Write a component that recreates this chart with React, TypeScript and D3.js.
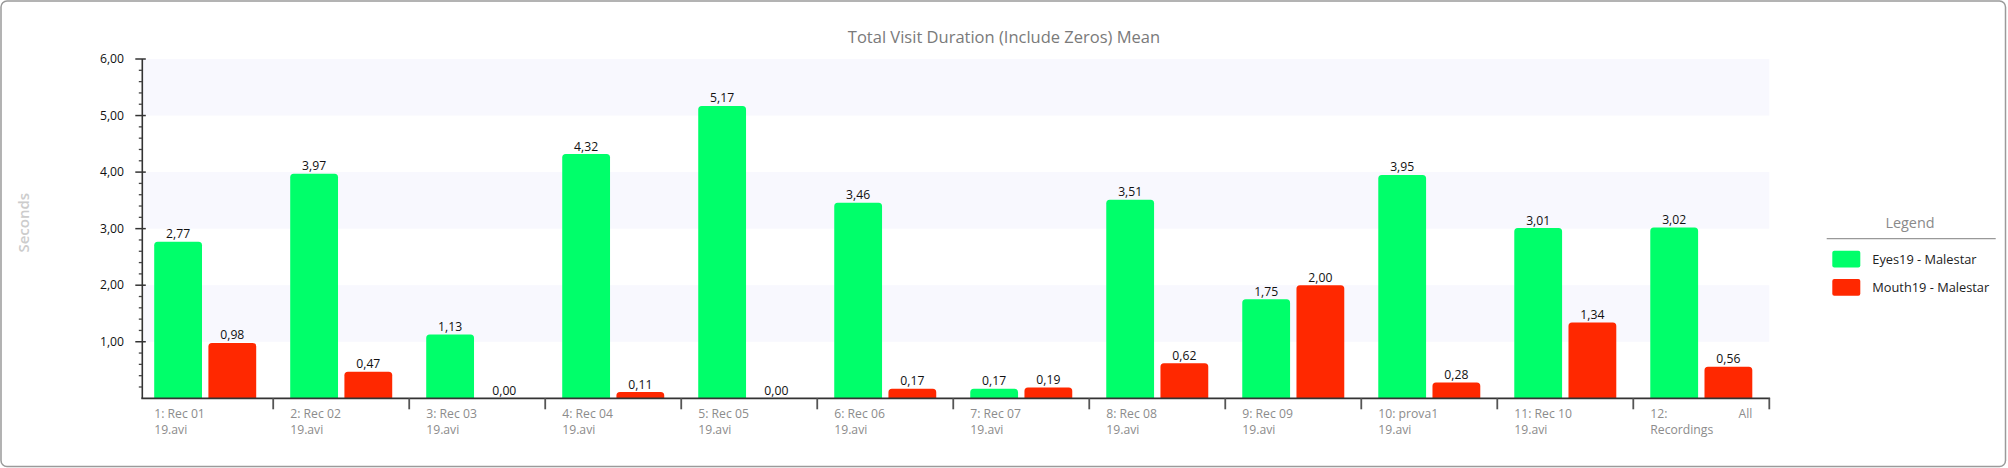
import React, { useEffect } from "react";
import * as d3 from "d3";

const categoryLine1 = ["1: Rec 01", "2: Rec 02", "3: Rec 03", "4: Rec 04", "5: Rec 05", "6: Rec 06", "7: Rec 07", "8: Rec 08", "9: Rec 09", "10: prova1", "11: Rec 10", "12: All"];
const categoryLine2 = ["19.avi", "19.avi", "19.avi", "19.avi", "19.avi", "19.avi", "19.avi", "19.avi", "19.avi", "19.avi", "19.avi", "Recordings"];
const eyesValues = [2.77, 3.97, 1.13, 4.32, 5.17, 3.46, 0.17, 3.51, 1.75, 3.95, 3.01, 3.02];
const mouthValues = [0.98, 0.47, 0.0, 0.11, 0.0, 0.17, 0.19, 0.62, 2.0, 0.28, 1.34, 0.56];
const seriesNames = ["Eyes19 - Malestar", "Mouth19 - Malestar"];
const seriesColors = ["#00FF6A", "#FF2800"];
const yTicks = [1, 2, 3, 4, 5, 6];
const bandRanges = [[5, 6], [3, 4], [1, 2]];
const title = "Total Visit Duration (Include Zeros) Mean";
const yTitle = "Seconds";
const legendTitle = "Legend";

const W = 2008;
const H = 468;
const FONT = "'Segoe UI', 'Open Sans', 'Noto Sans', sans-serif";

const fmt = (v: number) => d3.format(".2f")(v).replace(".", ",");

function topRounded(x: number, y: number, w: number, h: number, r: number) {
  const rr = Math.min(r, h, w / 2);
  const p = d3.path();
  p.moveTo(x, y + h);
  p.lineTo(x, y + rr);
  p.arcTo(x, y, x + rr, y, rr);
  p.lineTo(x + w - rr, y);
  p.arcTo(x + w, y, x + w, y + rr, rr);
  p.lineTo(x + w, y + h);
  p.closePath();
  return p.toString();
}

export default function App() {
  useEffect(() => {
    document.body.style.margin = "0";
  }, []);

  const plotLeft = 137.2;
  const plotRight = 1769.3;
  const axisX = 142.3;
  const y = d3.scaleLinear().domain([0, 6]).range([398.3, 59]);
  const x0 = d3.scaleBand<number>().domain(d3.range(categoryLine1.length)).range([plotLeft, plotRight]).paddingInner(0).paddingOuter(0);
  const bw = x0.bandwidth();
  const pad = bw * 0.125;
  const x1 = d3.scaleBand<number>().domain([0, 1]).range([pad, bw - pad]).paddingInner(0.118);
  const minorTicks = d3.range(0, 30).map((i) => i * 0.2).filter((v) => Math.abs(v - Math.round(v)) > 1e-6);
  const series = [eyesValues, mouthValues];

  return (
    <div style={{ position: "absolute", left: 0, top: 0 }}>
      <svg width={W} height={H} style={{ display: "block" }} fontFamily={FONT}>
        <rect x={1} y={1} width={W - 3.5} height={H - 2.5} rx={6} fill="#fff" stroke="#9a9a9a" strokeWidth={1.5} />
        <text x={W / 2} y={42.5} textAnchor="middle" fontSize={16.5} fill="#7a7a7a">{title}</text>
        {bandRanges.map(([a, b], i) => (
          <rect key={"band" + i} x={axisX} y={y(b)} width={plotRight - axisX} height={y(a) - y(b)} fill="#f8f8fe" />
        ))}
        {series.map((vals, s) =>
          vals.map((v, i) => {
            const bx = (x0(i) as number) + (x1(s) as number);
            const w = x1.bandwidth();
            return (
              <g key={"b" + s + "-" + i}>
                {v > 0 && <path d={topRounded(bx, y(v), w, y(0) - y(v), 3.5)} fill={seriesColors[s]} />}
                <text x={bx + w / 2} y={y(v) - 3.5} textAnchor="middle" fontSize={12.2} fill="#111">{fmt(v)}</text>
              </g>
            );
          })
        )}
        {/* y axis */}
        <line x1={axisX} x2={axisX} y1={y(6)} y2={y(0)} stroke="#333" strokeWidth={1.6} />
        {minorTicks.map((t, i) => (
          <line key={"mt" + i} x1={axisX - 3.5} x2={axisX} y1={y(t)} y2={y(t)} stroke="#444" strokeWidth={1.3} />
        ))}
        {yTicks.map((t) => (
          <g key={"yt" + t}>
            <line x1={axisX - 7} x2={axisX + 3.5} y1={y(t)} y2={y(t)} stroke="#333" strokeWidth={1.5} />
            <text x={124} y={y(t)} dy="0.35em" textAnchor="end" fontSize={12.2} fill="#111">{fmt(t)}</text>
          </g>
        ))}
        <text transform={`translate(29, ${222.7}) rotate(-90)`} textAnchor="middle" fontSize={15} fontWeight={600} fill="#cccccc">{yTitle}</text>
        {/* x axis */}
        <line x1={axisX - 1} x2={plotRight + 0.8} y1={y(0)} y2={y(0)} stroke="#333" strokeWidth={1.7} />
        {categoryLine1.map((_, i) => (
          <line key={"xt" + i} x1={(x0(i) as number) + bw} x2={(x0(i) as number) + bw} y1={y(0)} y2={y(0) + 11} stroke="#555" strokeWidth={1.8} />
        ))}
        {categoryLine1.map((c, i) => {
          const lx = (x0(i) as number) + pad;
          const rx = (x0(i) as number) + bw - pad;
          const last = i === categoryLine1.length - 1;
          const parts = c.split(" ");
          return (
            <g key={"xl" + i} fontSize={12.2} fill="#8c8c8c">
              {last ? (
                <>
                  <text x={lx} y={418.3}>{parts[0]}</text>
                  <text x={rx} y={418.3} textAnchor="end">{parts.slice(1).join(" ")}</text>
                </>
              ) : (
                <text x={lx} y={418.3}>{c}</text>
              )}
              <text x={lx} y={434.3}>{categoryLine2[i]}</text>
            </g>
          );
        })}
        {/* legend */}
        <text x={1910} y={228.3} textAnchor="middle" fontSize={14.4} fill="#8a8a8a">{legendTitle}</text>
        <line x1={1826.7} x2={1995.7} y1={238.7} y2={238.7} stroke="#999" strokeWidth={1.2} />
        {seriesNames.map((n, i) => (
          <g key={"lg" + i}>
            <rect x={1832.3} y={250.7 + i * 28.3} width={28} height={16.7} rx={2} fill={seriesColors[i]} />
            <text x={1872.3} y={264 + i * 28.3} fontSize={12.8} fill="#222">{n}</text>
          </g>
        ))}
      </svg>
    </div>
  );
}
